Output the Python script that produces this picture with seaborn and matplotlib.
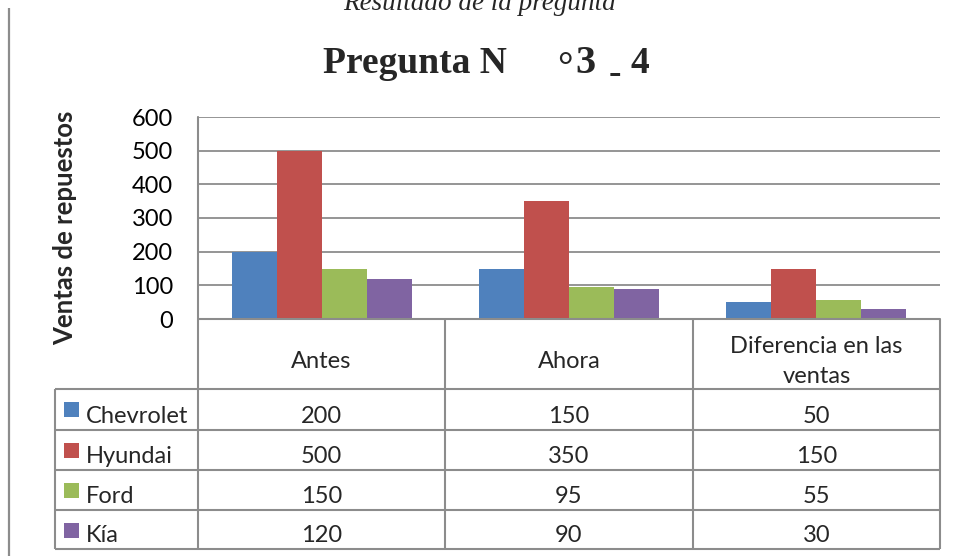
import matplotlib
matplotlib.use("Agg")
import matplotlib.pyplot as plt
import seaborn as sns
import pandas as pd

# ---- data ----
stages = ["Antes", "Ahora", "Diferencia en las\nventas"]
brands = ["Chevrolet", "Hyundai", "Ford", "Kía"]
chevrolet = [200, 150, 50]
hyundai = [500, 350, 150]
ford = [150, 95, 55]
kia = [120, 90, 30]
yticks = [0, 100, 200, 300, 400, 500, 600]
colors = ["#4F81BD", "#C0504D", "#9BBB59", "#8064A2"]
title_parts = ["Pregunta N", "°", "3", "-", "4"]
subtitle = "Resultado de la pregunta"
ylabel = "Ventas de repuestos"

series = {"Chevrolet": chevrolet, "Hyundai": hyundai, "Ford": ford, "Kía": kia}
rows = []
for b in brands:
    for s, v in zip(stages, series[b]):
        rows.append({"stage": s, "brand": b, "value": v})
df = pd.DataFrame(rows)

sns.set_theme(style="white")
plt.rcParams["font.family"] = ["Lato", "DejaVu Sans"]

W, H = 962, 556
fig = plt.figure(figsize=(W / 100, H / 100), dpi=100)
fig.patch.set_facecolor("white")

def fx(x):
    return x / W

def fy(y):
    return 1 - y / H

GRID = "#8c8c8c"
FS = 17
# plot area in pixel layout
L, R, T, B = 198, 940, 117, 319
ax = fig.add_axes([fx(L), fy(B), (R - L) / W, (B - T) / H])
sns.barplot(data=df, x="stage", y="value", hue="brand", hue_order=brands,
            order=stages, palette=colors, width=0.728, saturation=1,
            edgecolor="none", linewidth=0, legend=False, ax=ax, zorder=3)
ax.set_ylim(0, 600)
ax.set_xlim(-0.5, len(stages) - 0.5)
ax.set_yticks(yticks)
ax.set_yticklabels([str(t) for t in yticks], fontsize=FS, color="black")
for lab in ax.get_yticklabels():
    lab.set_verticalalignment("center_baseline")
ax.tick_params(axis="y", length=0, pad=18)
ax.set_xticks([])
ax.set_xlabel("")
ax.set_ylabel("")
ax.yaxis.grid(True, color=GRID, linewidth=1.3, zorder=0)
ax.set_axisbelow(True)
for side in ["top", "right"]:
    ax.spines[side].set_visible(False)
ax.spines["left"].set_color(GRID)
ax.spines["left"].set_linewidth(1.3)
ax.spines["bottom"].set_color(GRID)
ax.spines["bottom"].set_linewidth(1.3)
ax.patch.set_alpha(0)

# overlay in pixel coordinates for table & texts
ov = fig.add_axes([0, 0, 1, 1])
ov.set_xlim(0, W)
ov.set_ylim(H, 0)
ov.axis("off")
ov.patch.set_alpha(0)

lw = 1.5
# page border line
ov.plot([9.5, 9.5], [8, H], color="#8c8c8c", lw=1.6, solid_capstyle="butt")

# table grid
col_x = [L, 445, 693, R]
row_y = [389, 430, 470, 510, 549]
LEFT = 55
ov.plot([L, L], [T, row_y[-1]], color=GRID, lw=lw, solid_capstyle="butt")
ov.plot([L, R], [B, B], color=GRID, lw=lw, solid_capstyle="butt")
for y in row_y:
    ov.plot([LEFT, R], [y, y], color=GRID, lw=lw, solid_capstyle="butt")
ov.plot([LEFT, LEFT], [row_y[0], row_y[-1]], color=GRID, lw=lw, solid_capstyle="butt")
for x in col_x[1:]:
    ov.plot([x, x], [B, row_y[-1]], color=GRID, lw=lw, solid_capstyle="butt")

centers = [(col_x[i] + col_x[i + 1]) / 2 for i in range(3)]
# header
for cx, s in zip(centers, stages):
    if "\n" in s:
        l1, l2 = s.split("\n")
        ov.text(cx, 353, l1, ha="center", va="baseline", fontsize=FS)
        ov.text(cx, 383, l2, ha="center", va="baseline", fontsize=FS)
    else:
        ov.text(cx, 368, s, ha="center", va="baseline", fontsize=FS)

baselines = [423, 463, 503, 542]
for i, b in enumerate(brands):
    top = row_y[i]
    ov.add_patch(plt.Rectangle((64, top + 13), 15, 15, color=colors[i], lw=0))
    ov.text(86, baselines[i], b, ha="left", va="baseline", fontsize=FS)
    for cx, v in zip(centers, series[b]):
        ov.text(cx, baselines[i], str(v), ha="center", va="baseline", fontsize=FS)

# y label
ov.text(65, 228, ylabel, rotation=90, ha="center", va="center",
        fontsize=18.5, fontweight="bold")

# titles
serif = ["Liberation Serif", "DejaVu Serif"]
title_x = [323, 557, 575, 609, 631]
title_dy = [0, 6, 0, 10, 0]
title_fs = [27, 28, 29, 27, 27]
for part, x, dy, fs in zip(title_parts, title_x, title_dy, title_fs):
    ov.text(x, 73 + dy, part, ha="left", va="baseline", fontsize=fs,
            fontweight="bold", family=serif)
ov.text(480, 10, subtitle, ha="center", va="baseline", fontsize=19.5,
        style="italic", family=serif)

fig.savefig("out.png", dpi=100)
